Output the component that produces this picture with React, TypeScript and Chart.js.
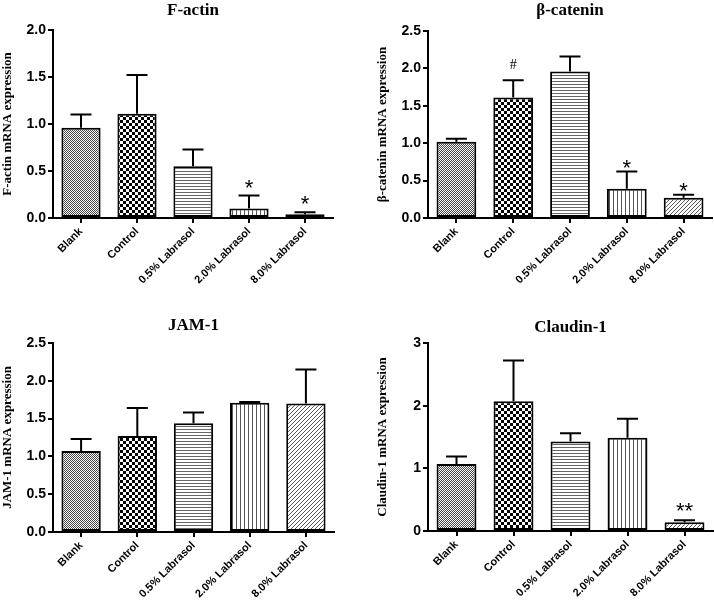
import React, { useEffect, useRef } from "react";
import { Chart, registerables } from "chart.js";

Chart.register(...registerables);

const categories = ["Blank", "Control", "0.5% Labrasol", "2.0% Labrasol", "8.0% Labrasol"];

const factinMeans = [0.96, 1.11, 0.55, 0.1, 0.04];
const factinErrors = [0.14, 0.41, 0.18, 0.14, 0.02];
const factinMarks = ["", "", "", "*", "*"];
const factinMarkY = [0, 0, 0, 0.383, 0.213];

const cateninMeans = [1.02, 1.61, 1.96, 0.39, 0.27];
const cateninErrors = [0.04, 0.23, 0.2, 0.23, 0.04];
const cateninMarks = ["", "#", "", "*", "*"];
const cateninMarkY = [0, 2.06, 0, 0.746, 0.44];

const jamMeans = [1.07, 1.27, 1.44, 1.71, 1.7];
const jamErrors = [0.16, 0.37, 0.14, 0.01, 0.45];
const jamMarks = ["", "", "", "", ""];
const jamMarkY = [0, 0, 0, 0, 0];

const claudinMeans = [1.07, 2.07, 1.43, 1.49, 0.14];
const claudinErrors = [0.12, 0.65, 0.13, 0.3, 0.03];
const claudinMarks = ["", "", "", "", "**"];
const claudinMarkY = [0, 0, 0, 0, 0.415];

function makePattern(kind: string): CanvasPattern | string {
  const c = document.createElement("canvas");
  const ctx = c.getContext("2d")!;
  if (kind === "fine") {
    c.width = 2; c.height = 2;
    ctx.fillStyle = "#fff"; ctx.fillRect(0, 0, 2, 2);
    ctx.fillStyle = "#444"; ctx.fillRect(0, 0, 1, 1); ctx.fillRect(1, 1, 1, 1);
  } else if (kind === "checker") {
    c.width = 6; c.height = 6;
    ctx.fillStyle = "#fff"; ctx.fillRect(0, 0, 6, 6);
    ctx.fillStyle = "#000"; ctx.fillRect(0, 0, 3, 3); ctx.fillRect(3, 3, 3, 3);
  } else if (kind === "hline") {
    c.width = 3; c.height = 3;
    ctx.fillStyle = "#fff"; ctx.fillRect(0, 0, 3, 3);
    ctx.fillStyle = "#666"; ctx.fillRect(0, 0, 3, 1);
  } else if (kind === "vline") {
    c.width = 4; c.height = 4;
    ctx.fillStyle = "#fff"; ctx.fillRect(0, 0, 4, 4);
    ctx.fillStyle = "#555"; ctx.fillRect(0, 0, 1, 4);
  } else {
    c.width = 4; c.height = 4;
    ctx.fillStyle = "#fff"; ctx.fillRect(0, 0, 4, 4);
    ctx.fillStyle = "#555";
    for (let i = 0; i < 4; i++) ctx.fillRect(3 - i, i, 1, 1);
  }
  return ctx.createPattern(c, "repeat") || "#fff";
}

type Geo = { left: number; top: number; w: number; h: number; aL: number; aR: number; aT: number; aB: number; titleBase: number };

type PanelProps = {
  title: string;
  yLabel: string;
  means: number[];
  errors: number[];
  marks: string[];
  markY: number[];
  yMax: number;
  yStep: number;
  decimals: number;
  geo: Geo;
};

function Panel(p: PanelProps) {
  const ref = useRef<HTMLCanvasElement | null>(null);
  useEffect(() => {
    const canvas = ref.current!;
    const g = p.geo;
    const yWidth = 53;
    const fills = ["fine", "checker", "hline", "vline", "diag"].map(makePattern);
    const overlay = {
      id: "overlay",
      afterDatasetsDraw(chart: any) {
        const { ctx, chartArea } = chart;
        const y = chart.scales.y;
        const meta = chart.getDatasetMeta(0);
        ctx.save();
        ctx.strokeStyle = "#000";
        ctx.lineWidth = 2;
        meta.data.forEach((bar: any, i: number) => {
          const top = y.getPixelForValue(p.means[i] + p.errors[i]);
          const x = bar.x;
          ctx.beginPath();
          ctx.moveTo(x, bar.y);
          ctx.lineTo(x, top);
          ctx.moveTo(x - 10.5, top);
          ctx.lineTo(x + 10.5, top);
          ctx.stroke();
          const m = p.marks[i];
          if (m) {
            const cy = y.getPixelForValue(p.markY[i]);
            ctx.fillStyle = "#000";
            ctx.textAlign = "center";
            ctx.textBaseline = "alphabetic";
            if (m === "#") {
              ctx.font = "14px 'Liberation Serif'";
              ctx.fillText(m, x, cy + 0.34 * 14);
            } else {
              ctx.font = "22px 'Liberation Sans'";
              ctx.fillText(m, x, cy + 0.57 * 22);
            }
          }
        });
        ctx.fillStyle = "#000";
        ctx.textAlign = "center";
        ctx.textBaseline = "alphabetic";
        ctx.font = "bold 17px 'Liberation Serif'";
        ctx.fillText(p.title, (chartArea.left + chartArea.right) / 2, g.titleBase);
        ctx.restore();
      },
    };
    const chart = new Chart(canvas, {
      type: "bar",
      data: {
        labels: categories,
        datasets: [
          {
            data: p.means,
            backgroundColor: fills as any,
            borderColor: "#000",
            borderWidth: 2,
            borderSkipped: false,
            barPercentage: 0.7,
            categoryPercentage: 1,
          },
        ],
      },
      options: {
        responsive: false,
        animation: false,
        devicePixelRatio: 1,
        layout: { padding: { left: g.aL - yWidth, right: g.w - g.aR, top: g.aT, bottom: 0 } },
        plugins: { legend: { display: false }, tooltip: { enabled: false }, title: { display: false } },
        scales: {
          x: {
            offset: true,
            border: { display: true, color: "#000", width: 2 },
            grid: { display: true, drawOnChartArea: false, drawTicks: true, tickLength: 5, color: "#000", lineWidth: 2, offset: false },
            ticks: {
              color: "#000",
              font: { family: "'Liberation Sans'", size: 11, weight: "bold" },
              maxRotation: 45,
              minRotation: 45,
              autoSkip: false,
              padding: 2,
            },
            afterFit: (s: any) => {
              s.height = g.h - g.aB;
            },
          },
          y: {
            min: 0,
            max: p.yMax,
            border: { display: true, color: "#000", width: 2 },
            grid: { display: true, drawOnChartArea: false, drawTicks: true, tickLength: 5, color: "#000", lineWidth: 2 },
            ticks: {
              stepSize: p.yStep,
              color: "#000",
              padding: 2,
              font: { family: "'Liberation Sans'", size: 14, weight: "bold" },
              callback: (v: any) => Number(v).toFixed(p.decimals),
            },
            title: {
              display: true,
              text: p.yLabel,
              color: "#000",
              font: { family: "'Liberation Serif'", size: 13, weight: "bold" },
              padding: { top: 0, bottom: 0 },
            },
            afterFit: (s: any) => {
              s.width = yWidth;
            },
          },
        },
      },
      plugins: [overlay],
    } as any);
    return () => chart.destroy();
  }, []);
  const g = p.geo;
  return (
    <div style={{ position: "absolute", left: g.left, top: g.top, width: g.w, height: g.h }}>
      <canvas ref={ref} width={g.w} height={g.h} style={{ display: "block", width: g.w, height: g.h }} />
    </div>
  );
}

export default function App() {
  return (
    <div style={{ position: "fixed", left: 0, top: 0, width: 714, height: 603, background: "#fff", overflow: "hidden" }}>
      <Panel
        title="F-actin"
        yLabel="F-actin mRNA expression"
        means={factinMeans}
        errors={factinErrors}
        marks={factinMarks}
        markY={factinMarkY}
        yMax={2}
        yStep={0.5}
        decimals={1}
        geo={{ left: 0, top: 0, w: 357, h: 300, aL: 53, aR: 333, aT: 30, aB: 218, titleBase: 15 }}
      />
      <Panel
        title="β-catenin"
        yLabel="β-catenin mRNA expression"
        means={cateninMeans}
        errors={cateninErrors}
        marks={cateninMarks}
        markY={cateninMarkY}
        yMax={2.5}
        yStep={0.5}
        decimals={1}
        geo={{ left: 357, top: 0, w: 357, h: 300, aL: 71, aR: 355, aT: 31, aB: 218, titleBase: 15 }}
      />
      <Panel
        title="JAM-1"
        yLabel="JAM-1 mRNA expression"
        means={jamMeans}
        errors={jamErrors}
        marks={jamMarks}
        markY={jamMarkY}
        yMax={2.5}
        yStep={0.5}
        decimals={1}
        geo={{ left: 0, top: 300, w: 357, h: 303, aL: 53, aR: 334, aT: 43, aB: 232, titleBase: 30 }}
      />
      <Panel
        title="Claudin-1"
        yLabel="Claudin-1 mRNA expression"
        means={claudinMeans}
        errors={claudinErrors}
        marks={claudinMarks}
        markY={claudinMarkY}
        yMax={3}
        yStep={1}
        decimals={0}
        geo={{ left: 357, top: 300, w: 357, h: 303, aL: 71, aR: 356, aT: 43, aB: 231, titleBase: 32 }}
      />
    </div>
  );
}
